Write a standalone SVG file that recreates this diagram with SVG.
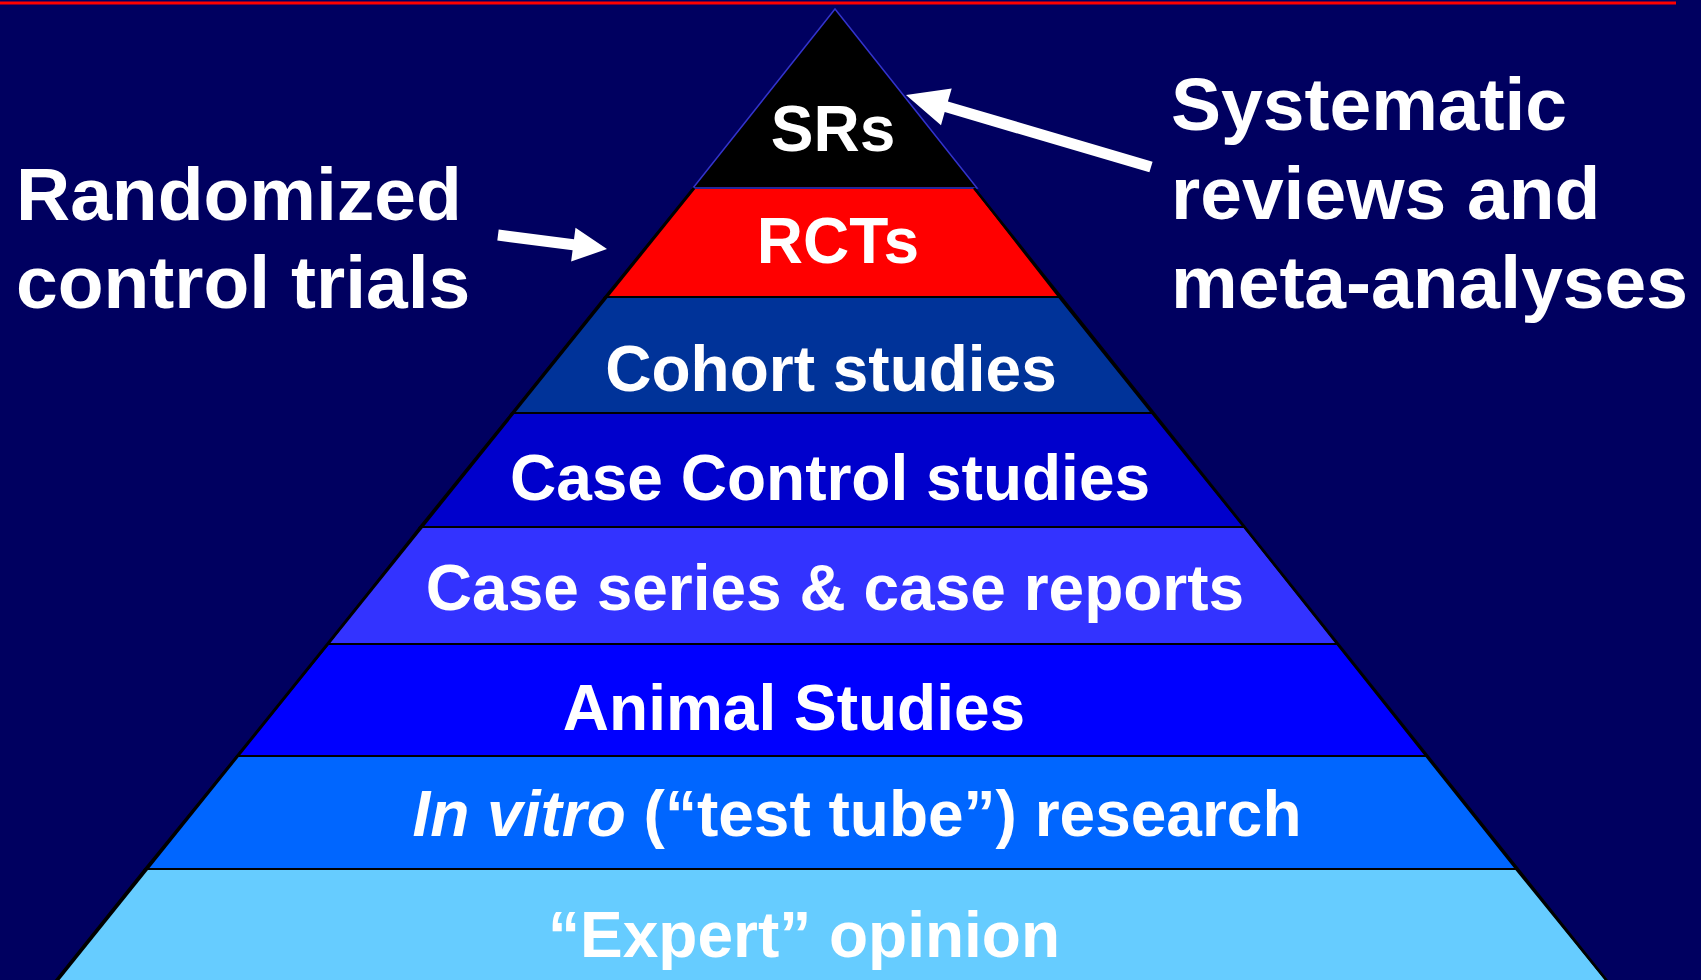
<svg xmlns="http://www.w3.org/2000/svg" width="1701" height="980" viewBox="0 0 1701 980">
<style>
.lay{stroke:#000;stroke-width:2;stroke-linejoin:miter}
.t{font-family:"Liberation Sans",Arial,sans-serif;font-weight:bold;fill:#fff;font-size:64px;text-anchor:middle}
.side{font-family:"Liberation Sans",Arial,sans-serif;font-weight:bold;fill:#fff;font-size:75px}
.arr{fill:#fff}
#expert polygon{fill:#66ccff}#invitro polygon{fill:#0066ff}#animal polygon{fill:#0000ff}
</style>
<rect x="0" y="0" width="1701" height="980" fill="#000060"/>
<line x1="0" y1="3" x2="1676" y2="3" stroke="#ff0000" stroke-width="3"/>
<g id="expert"><polygon class="lay" points="145,869 1516,869 1606,980 1609,985 52,985 56,980"/><text class="t" x="804" y="957">“Expert” opinion</text></g>
<g id="invitro"><polygon class="lay" points="237,756 1426,756 1516,869 145,869"/><text class="t" x="857" y="836"><tspan font-style="italic">In vitro</tspan> (“test tube”) research</text></g>
<g id="animal"><polygon class="lay" points="328,644 1337,644 1426,756 237,756"/><text class="t" x="794" y="730">Animal Studies</text></g>
<g id="caseseries"><polygon class="lay" points="420,527 1244,527 1337,644 328,644" fill="#3333ff"/><text class="t" x="835" y="610">Case series &amp; case reports</text></g>
<g id="casecontrol"><polygon class="lay" points="512,413 1152,413 1244,527 420,527" fill="#0000cc"/><text class="t" x="830" y="500">Case Control studies</text></g>
<g id="cohort"><polygon class="lay" points="605,297 1059,297 1152,413 512,413" fill="#003399"/><text class="t" x="831" y="391">Cohort studies</text></g>
<g id="rcts"><polygon class="lay" points="694,188 974,188 1059,297 605,297" fill="#ff0000"/><text class="t" x="838" y="263">RCTs</text></g>
<g id="srs"><polygon points="835,9 693,188 977,188" fill="#000" stroke="#3333cc" stroke-width="1.5"/><text class="t" x="833" y="151">SRs</text></g>
<line x1="694" y1="188" x2="56" y2="982" stroke="#000" stroke-width="3"/>
<line x1="974" y1="188" x2="1608" y2="982" stroke="#000" stroke-width="2.5"/>
<g id="label-rct"><text class="side" x="16" y="220">Randomized</text><text class="side" x="16" y="308">control trials</text></g>
<g id="label-sr"><text class="side" x="1171" y="130">Systematic</text><text class="side" x="1171" y="219">reviews and</text><text class="side" x="1171" y="308">meta-analyses</text></g>
<g id="connectors">
<polygon class="arr" points="1152.6,161.7 947.9,101.5 951.7,88.6 906,95 941,125.2 944.7,112.1 1149.4,172.3"/>
<polygon class="arr" points="498.7,229.5 574,239.2 575.5,227.8 607,249 571.1,261.6 572.6,250.2 497.3,240.5"/>
</g>
</svg>
